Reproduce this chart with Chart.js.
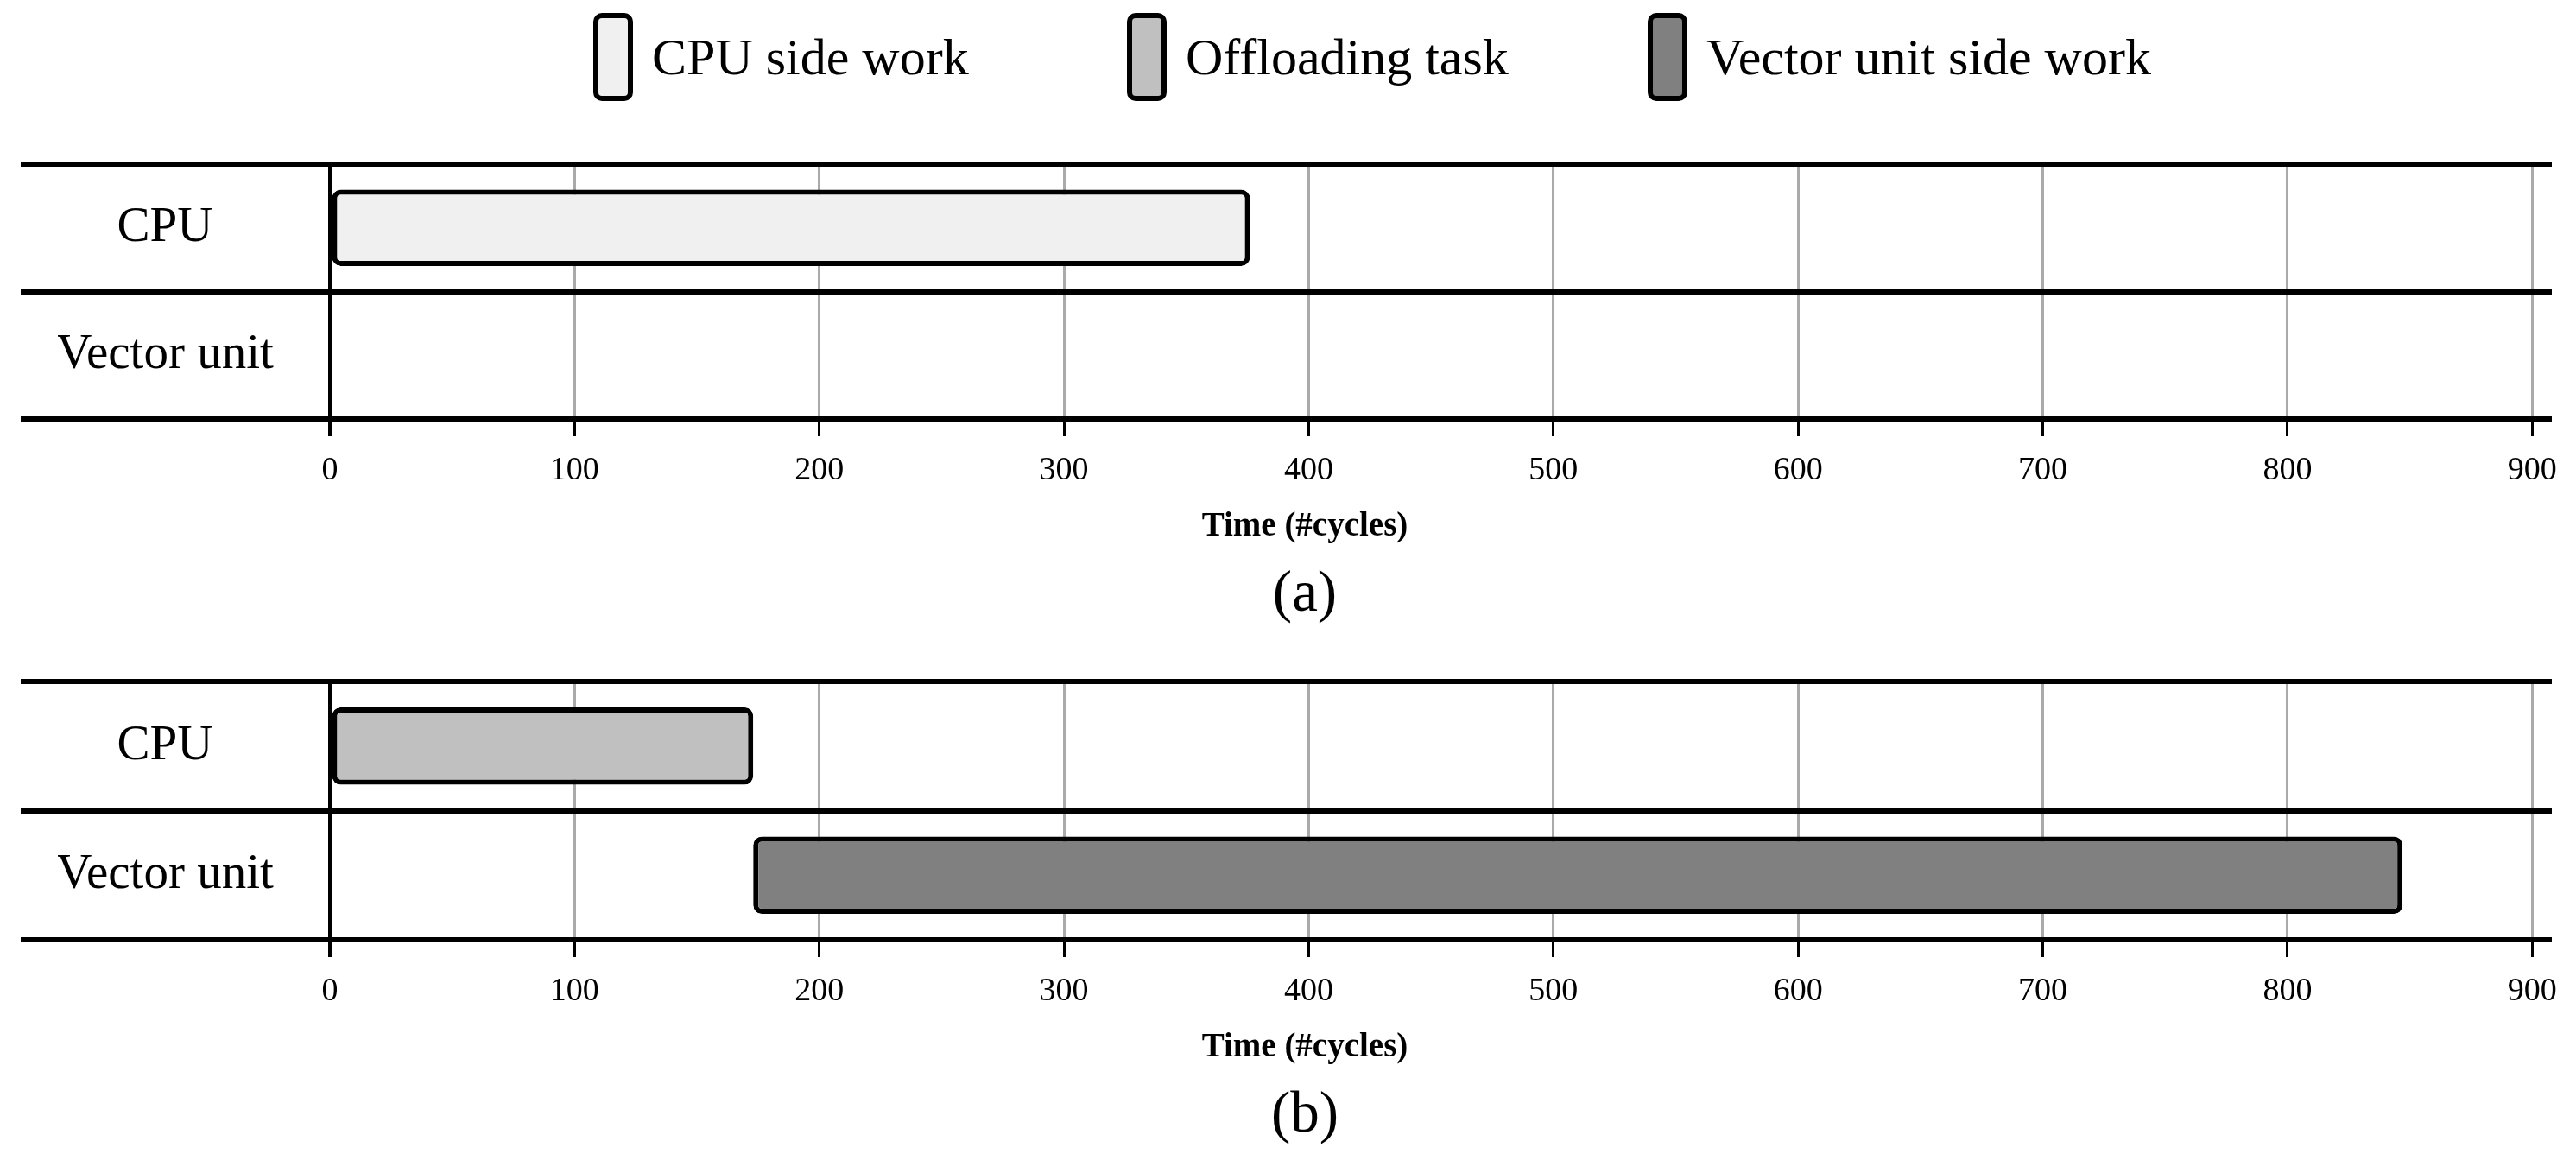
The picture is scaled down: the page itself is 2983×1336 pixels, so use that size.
<!DOCTYPE html>
<html lang="en">
<head>
<meta charset="UTF-8">
<title>CPU / vector unit timeline</title>
<script src="https://cdn.jsdelivr.net/npm/chart.js"></script>
<style>
    html, body { margin: 0; padding: 0; background: #fff; }
    .page { position: relative; width: 2983px; height: 1336px; overflow: hidden; }
    canvas { display: block; }
    #legend {
        position: absolute; left: 0; top: 0; width: 100%; height: 130px;
        font-family: "Liberation Serif", "Times New Roman", serif;
        font-size: 60px; color: #000;
    }
    .legend-item { position: absolute; top: 15px; height: 102px; display: flex; align-items: center; white-space: nowrap; }
    .legend-box { box-sizing: border-box; width: 46px; height: 102px; border: 6px solid #000; border-radius: 10px; margin-right: 22px; }
</style>
</head>
<body>
<div class="page">
    <canvas id="chartA" width="2983" height="730"></canvas>
    <canvas id="chartB" width="2983" height="606"></canvas>
    <div id="legend"></div>
</div>
<script>
    const rows = ['CPU', 'Vector unit'];

    // [start, end] in cycles, one entry per row (null = idle)
    const cpuWorkA = [[0, 376], null];
    const offloadB = [[0, 173], null];
    const vectorWorkB = [null, [173, 847]];

    const timeTicks = [0, 100, 200, 300, 400, 500, 600, 700, 800, 900];
    const timeMax = 908;

    const fills = {
        'CPU side work': '#f0f0f0',
        'Offloading task': '#c0c0c0',
        'Vector unit side work': '#808080'
    };

    Chart.defaults.font.family = '"Liberation Serif", "Times New Roman", serif';
    Chart.defaults.color = '#000';

    // y labels are centred in the band left of the plot
    const meas = document.createElement('canvas').getContext('2d');
    meas.font = '57px "Liberation Serif"';
    const widestRow = Math.max(...rows.map(r => meas.measureText(r).width));

    function bar(label, data) {
        return {
            label: label,
            data: data,
            backgroundColor: fills[label],
            borderColor: '#000',
            borderWidth: 6,
            borderRadius: 10,
            borderSkipped: false,
            barPercentage: 0.6,
            categoryPercentage: 1,
            grouped: false
        };
    }

    const isZero = c => c.tick && c.tick.value === 0;

    function makeChart(id, datasets, caption, padTop, padBottom) {
        return new Chart(document.getElementById(id), {
            type: 'bar',
            data: { labels: rows, datasets: datasets },
            options: {
                indexAxis: 'y',
                responsive: false,
                animation: false,
                layout: { padding: { left: 67, right: 28, top: padTop, bottom: padBottom } },
                scales: {
                    x: {
                        type: 'linear',
                        min: 0,
                        max: timeMax,
                        border: { display: false },
                        afterBuildTicks: s => { s.ticks = timeTicks.map(v => ({ value: v })); },
                        grid: {
                            z: -2,
                            color: c => isZero(c) ? '#000' : '#aaaaaa',
                            lineWidth: c => isZero(c) ? 5 : 3,
                            tickColor: '#000',
                            tickLength: 20
                        },
                        ticks: { padding: 17, maxRotation: 0, autoSkip: false, font: { size: 38 } }
                    },
                    y: {
                        border: { display: false },
                        grid: { color: '#000', lineWidth: 6, tickLength: 358, offset: true, z: -1 },
                        ticks: { crossAlign: 'center', padding: 24 - 191 - widestRow / 2, font: { size: 57 } },
                        afterFit: s => { s.width = 315; }
                    }
                },
                plugins: {
                    legend: { display: false },
                    tooltip: { enabled: false },
                    subtitle: {
                        display: true, text: 'Time (#cycles)', position: 'bottom',
                        font: { size: 39, weight: 'bold' }, padding: { top: 2, bottom: 0 }
                    },
                    title: {
                        display: true, text: caption, position: 'bottom',
                        font: { size: 67, weight: 'normal', lineHeight: 1 }, padding: { top: 23, bottom: 0 }
                    }
                }
            }
        });
    }

    const chartA = makeChart('chartA', [bar('CPU side work', cpuWorkA)], '(a)', 190, 6.6);
    const chartB = makeChart('chartB', [bar('Offloading task', offloadB), bar('Vector unit side work', vectorWorkB)], '(b)', 59, 9.6);

    // shared legend for both panels
    const legendLeft = [687, 1305, 1908];
    const items = [];
    [chartA, chartB].forEach(ch => ch.data.datasets.forEach(ds => {
        if (!items.some(d => d.label === ds.label)) items.push(ds);
    }));
    const legend = document.getElementById('legend');
    items.forEach((ds, i) => {
        const item = document.createElement('div');
        item.className = 'legend-item';
        item.style.left = legendLeft[i] + 'px';
        const box = document.createElement('span');
        box.className = 'legend-box';
        box.style.background = ds.backgroundColor;
        item.appendChild(box);
        item.appendChild(document.createTextNode(ds.label));
        legend.appendChild(item);
    });
</script>
</body>
</html>
